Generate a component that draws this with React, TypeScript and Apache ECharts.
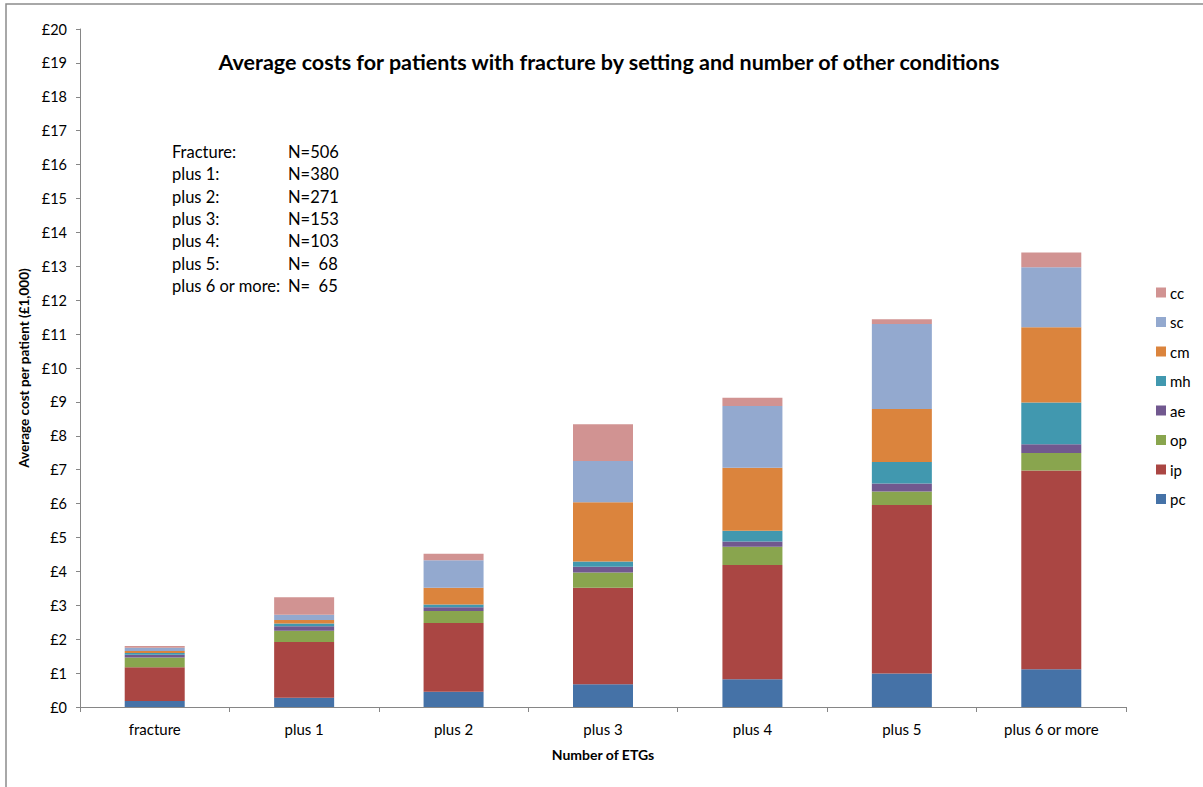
import React, { useEffect, useRef } from "react";
import * as echarts from "echarts";

const categories = ["fracture", "plus 1", "plus 2", "plus 3", "plus 4", "plus 5", "plus 6 or more"];
const pc = [0.18, 0.27, 0.45, 0.67, 0.82, 0.99, 1.11];
const ip = [0.99, 1.65, 2.03, 2.85, 3.37, 4.97, 5.87];
const op = [0.29, 0.33, 0.35, 0.45, 0.54, 0.40, 0.51];
const ae = [0.08, 0.13, 0.11, 0.17, 0.15, 0.23, 0.26];
const mh = [0.05, 0.08, 0.08, 0.15, 0.32, 0.64, 1.23];
const cm = [0.06, 0.11, 0.50, 1.75, 1.86, 1.56, 2.22];
const sc = [0.10, 0.15, 0.81, 1.22, 1.82, 2.51, 1.77];
const cc = [0.05, 0.52, 0.19, 1.08, 0.24, 0.14, 0.44];

const seriesNames = ["pc", "ip", "op", "ae", "mh", "cm", "sc", "cc"];
const seriesData = [pc, ip, op, ae, mh, cm, sc, cc];
const seriesColors = ["#4572A7", "#AA4643", "#89A54E", "#71588F", "#4198AF", "#DB843D", "#93A9CF", "#D19392"];

const noteLabels = ["Fracture:", "plus 1:", "plus 2:", "plus 3:", "plus 4:", "plus 5:", "plus 6 or more:"];
const noteValues = ["N=506", "N=380", "N=271", "N=153", "N=103", "N=  68", "N=  65"];

const FONT = "Lato, 'Open Sans', sans-serif";

export default function App() {
  const ref = useRef<HTMLDivElement>(null);
  useEffect(() => {
    if (!ref.current) return;
    const chart = echarts.init(ref.current, null, { renderer: "svg" });
    const graphics: any[] = [
      {
        type: "rect",
        shape: { x: 6, y: 4, width: 1400, height: 1000 },
        style: { fill: "none", stroke: "#8c8c8c", lineWidth: 1.5 },
        silent: true,
      },
    ];
    noteLabels.forEach((t, i) => {
      graphics.push({
        type: "text",
        x: 172,
        y: 152 + i * 22.3,
        style: { text: t, font: `16.5px ${FONT}`, fill: "#000", verticalAlign: "middle" },
      });
      graphics.push({
        type: "text",
        x: 288,
        y: 152 + i * 22.3,
        style: { text: noteValues[i], font: `16.5px ${FONT}`, fill: "#000", verticalAlign: "middle" },
      });
    });
    chart.setOption({
      animation: false,
      textStyle: { fontFamily: FONT },
      title: {
        text: "Average costs for patients with fracture by setting and number of other conditions",
        left: 604,
        textAlign: "center",
        top: 46,
        textStyle: { fontSize: 21.5, fontWeight: "bold", color: "#000", fontFamily: FONT },
      },
      legend: {
        orient: "vertical",
        left: 1156,
        top: 285,
        padding: 0,
        itemWidth: 10,
        itemHeight: 10,
        itemGap: 14.5,
        icon: "rect",
        data: ["cc", "sc", "cm", "mh", "ae", "op", "ip", "pc"],
        textStyle: { fontSize: 15, color: "#000", fontFamily: FONT, padding: [0, 0, 0, -1] },
      },
      grid: { left: 80, right: 77, top: 29, bottom: 80 },
      xAxis: {
        type: "category",
        data: categories,
        name: "Number of ETGs",
        nameLocation: "middle",
        nameGap: 40,
        nameTextStyle: { fontSize: 14, fontWeight: "bold", color: "#000" },
        axisLine: { lineStyle: { color: "#868686", width: 1 } },
        axisTick: { show: true, length: 5, lineStyle: { color: "#868686" } },
        axisLabel: { fontSize: 15, color: "#000", margin: 14 },
      },
      yAxis: {
        type: "value",
        min: 0,
        max: 20,
        interval: 1,
        name: "Average cost per patient (£1,000)",
        nameLocation: "middle",
        nameGap: 47,
        nameTextStyle: { fontSize: 13.5, fontWeight: "bold", color: "#000" },
        axisLine: { show: true, lineStyle: { color: "#868686", width: 1 } },
        axisTick: { show: true, length: 4, lineStyle: { color: "#868686" } },
        splitLine: { show: false },
        axisLabel: { fontSize: 14.5, color: "#000", margin: 13, formatter: (v: number) => "£" + v },
      },
      graphic: graphics,
      series: seriesNames.map((n, i) => ({
        name: n,
        type: "bar",
        stack: "total",
        barWidth: 60,
        data: seriesData[i],
        itemStyle: { color: seriesColors[i] },
      })),
    });
    return () => chart.dispose();
  }, []);
  return (
    <div
      ref={ref}
      style={{ position: "absolute", left: 0, top: 0, width: 1203, height: 787, background: "#fff" }}
    />
  );
}
